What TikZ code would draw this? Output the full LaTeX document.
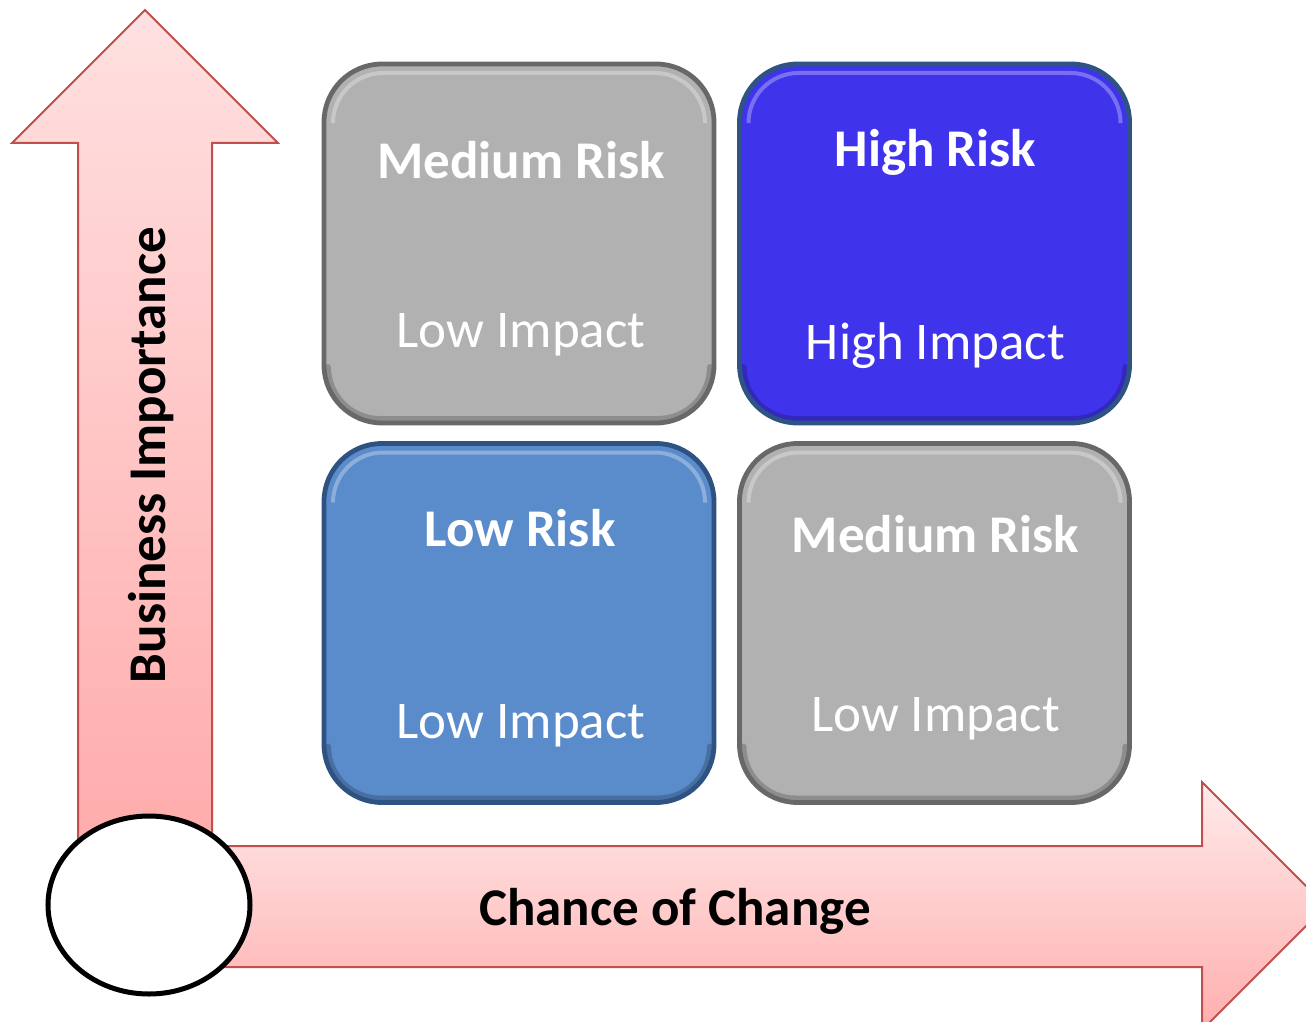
\documentclass[tikz,border=0pt]{standalone}
\usepackage{fontspec}
\setmainfont{Carlito}
\usetikzlibrary{positioning,calc,shapes.geometric}

\definecolor{arrowrim}{HTML}{C0504D}
\definecolor{cellgray}{HTML}{B1B1B1}
\definecolor{cellgrayrim}{HTML}{686868}
\definecolor{cellhigh}{HTML}{3F33EB}
\definecolor{cellhighrim}{HTML}{2F5383}
\definecolor{celllow}{HTML}{5A8BCB}
\definecolor{celllowrim}{HTML}{2E5383}

\tikzset{
  bigarrow/.style={draw=arrowrim, line width=1pt, line join=miter},
  cell/.style={rounded corners=29pt, minimum width=195pt, minimum height=179.5pt,
    inner sep=0pt, line width=2.4pt,
    path picture={
      % light bevel along the top, shade along the bottom
      \draw[white, opacity=.3, line width=2pt, rounded corners=25pt, line cap=round]
        ([shift={(4.5pt,-29pt)}]path picture bounding box.north west)
        -- ([shift={(4.5pt,-4.5pt)}]path picture bounding box.north west)
        -- ([shift={(-4.5pt,-4.5pt)}]path picture bounding box.north east)
        -- ([shift={(-4.5pt,-29pt)}]path picture bounding box.north east);
      \draw[black, opacity=.2, line width=3pt, rounded corners=26pt, line cap=round]
        ([shift={(2pt,28pt)}]path picture bounding box.south west)
        -- ([shift={(2pt,2pt)}]path picture bounding box.south west)
        -- ([shift={(-2pt,2pt)}]path picture bounding box.south east)
        -- ([shift={(-2pt,28pt)}]path picture bounding box.south east);
    }},
  gray cell/.style={cell, fill=cellgray, draw=cellgrayrim},
  high cell/.style={cell, fill=cellhigh, draw=cellhighrim},
  low cell/.style={cell, fill=celllow, draw=celllowrim},
  risk/.style={anchor=base, text=white, font=\bfseries\fontsize{26.5}{30}\selectfont},
  impact/.style={anchor=base, text=white, font=\fontsize{26.5}{30}\selectfont},
  axislabel/.style={anchor=base, text=black, font=\bfseries\fontsize{26.5}{30}\selectfont},
}

\begin{document}
\begin{tikzpicture}[x=0.5pt, y=-0.5pt]
\useasboundingbox (0,0) rectangle (1306,1022);
\clip (0,0) rectangle (1306,1022);

% axes
\draw[bigarrow, top color=red!8, bottom color=red!32]
  (212,846) -- (1202,846) -- (1202,782) -- (1326,906)
  -- (1202,1030) -- (1202,967) -- (120,967) -- (120,846) -- cycle;
\draw[bigarrow, top color=red!12, bottom color=red!34]
  (78,900) -- (78,143) -- (12,143) -- (145,10) -- (278,143)
  -- (212,143) -- (212,900) -- cycle;
\node[draw=black, fill=white, line width=2.5pt, ellipse, minimum width=101pt,
  minimum height=89pt] (origin) at (149,905) {};

\node[axislabel, rotate=90] (importance) at (165,455) {Business Importance};
\node[axislabel] (change) at (675,925) {Chance of Change};

% risk matrix
\node[gray cell] (tl) at (519,243.5) {};
\node[high cell] (tr) at (934.5,243.5) {};
\node[low cell]  (bl) at (519,623) {};
\node[gray cell] (br) at (934.5,623) {};

\node[risk]   (tlRisk)   at ($(tl.north)+(2,117)$)  {Medium Risk};
\node[impact] (tlImpact) at ($(tl.south)+(2,-78)$)  {Low Impact};
\node[risk]   (trRisk)   at ($(tr.north)+(1,105)$)  {High Risk};
\node[impact] (trImpact) at ($(tr.south)+(1,-66)$)  {High Impact};
\node[risk]   (blRisk)   at ($(bl.north)+(1,105)$)  {Low Risk};
\node[impact] (blImpact) at ($(bl.south)+(2,-66)$)  {Low Impact};
\node[risk]   (brRisk)   at ($(br.north)+(1,111)$)  {Medium Risk};
\node[impact] (brImpact) at ($(br.south)+(1,-73)$)  {Low Impact};
\end{tikzpicture}
\end{document}
